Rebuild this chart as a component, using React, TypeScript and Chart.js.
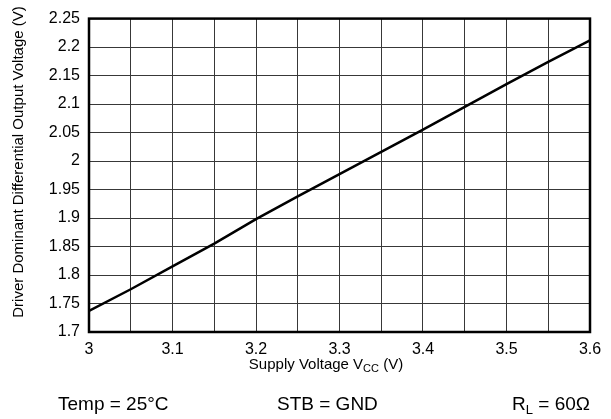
import { useEffect, useRef } from "react";
import { Chart, registerables } from "chart.js";

Chart.register(...registerables);

// supply voltage (V) and driver dominant differential output voltage (V)
const supplyVoltage = [3, 3.05, 3.1, 3.15, 3.2, 3.25, 3.3, 3.35, 3.4, 3.45, 3.5, 3.55, 3.6];
const outputVoltage = [1.737, 1.775, 1.815, 1.855, 1.898, 1.938, 1.977, 2.016, 2.055, 2.095, 2.135, 2.174, 2.212];

const xMin = 3;
const xMax = 3.6;
const yMin = 1.7;
const yMax = 2.25;
const step = 0.05;

const FONT = "'Liberation Sans', Arial, Helvetica, sans-serif";

const fmt = (v: number) => String(Number(v.toFixed(2)));

// axis titles, conditions row and the heavy frame round the plot
const decorations = {
  id: "decorations",
  afterDraw(chart: Chart) {
    const { ctx, chartArea } = chart;
    ctx.save();
    ctx.strokeStyle = "#000";
    ctx.lineWidth = 2.5;
    ctx.strokeRect(chartArea.left, chartArea.top, chartArea.right - chartArea.left, chartArea.bottom - chartArea.top);

    ctx.fillStyle = "#000";
    // y title
    ctx.save();
    ctx.translate(19, 162);
    ctx.rotate(-Math.PI / 2);
    ctx.font = `15px ${FONT}`;
    ctx.textAlign = "center";
    ctx.textBaseline = "middle";
    ctx.fillText("Driver Dominant Differential Output Voltage (V)", 0, 0);
    ctx.restore();

    // x title with subscript
    ctx.textAlign = "left";
    ctx.textBaseline = "alphabetic";
    const parts: [string, number, number][] = [
      ["Supply Voltage V", 15, 0],
      ["CC", 11, 3],
      [" (V)", 15, 0],
    ];
    let total = 0;
    for (const [t, s] of parts) {
      ctx.font = `${s}px ${FONT}`;
      total += ctx.measureText(t).width;
    }
    let x = 326 - total / 2;
    for (const [t, s, dy] of parts) {
      ctx.font = `${s}px ${FONT}`;
      ctx.fillText(t, x, 369 + dy);
      x += ctx.measureText(t).width;
    }

    // test conditions
    const base = 410;
    ctx.font = `19px ${FONT}`;
    ctx.fillText("Temp = 25°C", 58, base);
    ctx.fillText("STB = GND", 277, base);
    // R_L = 60Ω, right aligned at plot edge
    const r = "R";
    const rest = " = 60Ω";
    const wR = ctx.measureText(r).width;
    const wRest = ctx.measureText(rest).width;
    ctx.font = `13px ${FONT}`;
    const wL = ctx.measureText("L").width;
    let rx = chartArea.right - (wR + wL + wRest);
    ctx.font = `19px ${FONT}`;
    ctx.fillText(r, rx, base);
    rx += wR;
    ctx.font = `13px ${FONT}`;
    ctx.fillText("L", rx, base + 4);
    rx += wL;
    ctx.font = `19px ${FONT}`;
    ctx.fillText(rest, rx, base);
    ctx.restore();
  },
};

export default function App() {
  const ref = useRef<HTMLCanvasElement | null>(null);
  useEffect(() => {
    if (!ref.current) return;
    const ctx = ref.current.getContext("2d");
    if (!ctx) return;

    const chart = new Chart(ctx, {
      type: "line",
      data: {
        datasets: [
          {
            label: "VOD",
            data: supplyVoltage.map((v, i) => ({ x: v, y: outputVoltage[i] })),
            borderColor: "#000",
            borderWidth: 2.5,
            pointRadius: 0,
            tension: 0,
            fill: false,
          },
        ],
      },
      options: {
        animation: false,
        responsive: true,
        maintainAspectRatio: false,
        layout: { padding: { left: 0, top: 14, right: 21, bottom: 0 } },
        plugins: {
          legend: { display: false },
          tooltip: { enabled: false },
        },
        scales: {
          x: {
            type: "linear",
            min: xMin,
            max: xMax,
            border: { display: false },
            grid: { color: "#383838", lineWidth: 1, drawTicks: false },
            afterFit: (s: any) => {
              s.height = 87;
            },
            ticks: {
              stepSize: step,
              autoSkip: false,
              maxRotation: 0,
              padding: 8,
              color: "#000",
              font: { family: FONT, size: 16 },
              callback: (v: any) => {
                const n = Number(v);
                return Math.round(n * 100) % 10 === 0 ? fmt(n) : "";
              },
            },
          },
          y: {
            min: yMin,
            max: yMax,
            border: { display: false },
            grid: { color: "#383838", lineWidth: 1, drawTicks: false },
            afterFit: (s: any) => {
              s.width = 89;
            },
            ticks: {
              stepSize: step,
              autoSkip: false,
              padding: 9,
              color: "#000",
              font: { family: FONT, size: 16 },
              callback: (v: any) => fmt(Number(v)),
            },
          },
        },
      },
      plugins: [decorations],
    });
    return () => chart.destroy();
  }, []);

  return (
    <div style={{ position: "absolute", left: 0, top: 0, width: 611, height: 419, background: "#fff" }}>
      <canvas ref={ref} />
    </div>
  );
}
